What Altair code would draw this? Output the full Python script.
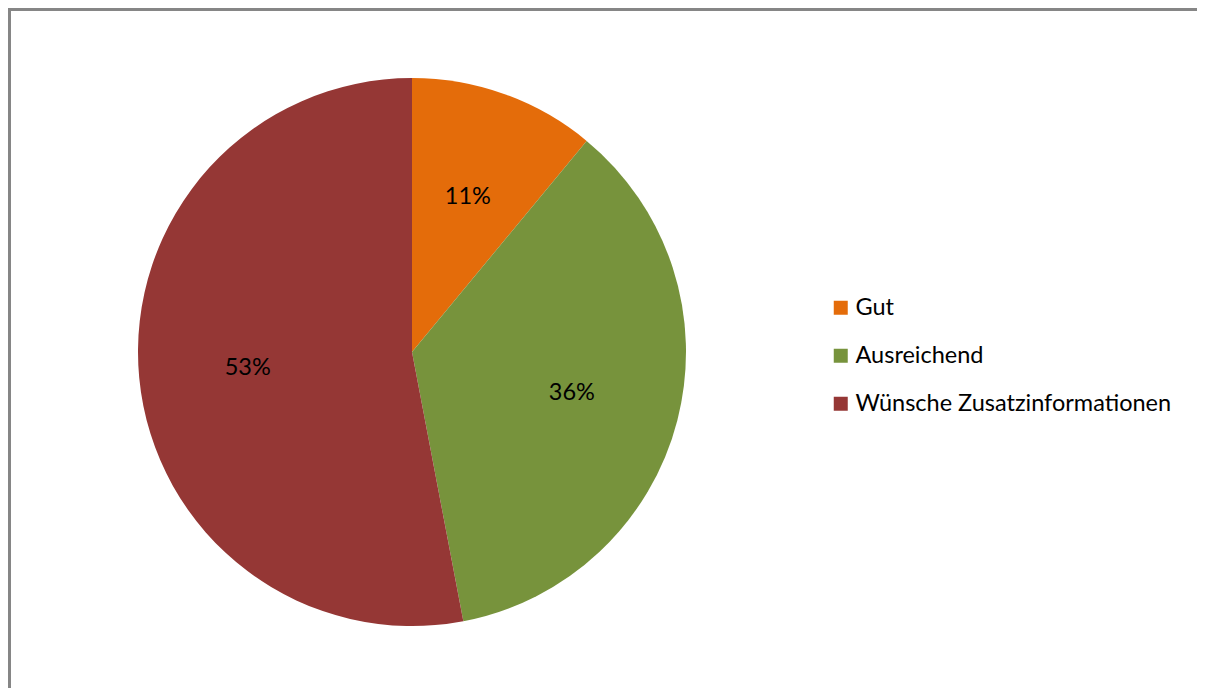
import altair as alt
import pandas as pd

categories = ["Gut", "Ausreichend", "Wünsche Zusatzinformationen"]
values = [11, 36, 53]
labels = ["11%", "36%", "53%"]
colors = ["#E46C0A", "#77933C", "#953735"]

df = pd.DataFrame({"cat": categories, "val": values, "lab": labels, "order": [0, 1, 2]})

FONT = "Lato"
W, H = 1189, 680
CX, CY, R = 404, 344, 274

base = alt.Chart(df).encode(
    theta=alt.Theta("val:Q", stack=True),
    order=alt.Order("order:Q"),
)

pie = base.mark_arc(outerRadius=R).encode(
    x=alt.value(CX),
    y=alt.value(CY),
    color=alt.Color(
        "cat:N",
        scale=alt.Scale(domain=categories, range=colors),
        sort=categories,
        legend=alt.Legend(
            title=None,
            orient="none",
            legendX=821,
            legendY=288,
            symbolType="square",
            symbolSize=196,
            symbolStrokeWidth=0,
            symbolOpacity=1,
            labelFont=FONT,
            labelFontSize=23.5,
            labelColor="#000000",
            labelOffset=3,
            rowPadding=23,
            labelLimit=500,
        ),
    ),
)

text = base.mark_text(radius=165, font=FONT, fontSize=23.5, color="#000000").encode(
    x=alt.value(CX),
    y=alt.value(CY),
    text="lab:N",
)

border = alt.Chart(pd.DataFrame({"a": [0]})).mark_rule(color="#868686", strokeWidth=3)
left = border.encode(x=alt.value(1.5), y=alt.value(0), y2=alt.value(H + 20))
top = border.encode(y=alt.value(1.5), x=alt.value(0), x2=alt.value(W + 20))

chart = (
    alt.layer(pie, text, left, top)
    .properties(width=W, height=H, padding=0, autosize=alt.AutoSizeParams(type="none"))
    .configure_view(stroke=None)
)

chart.save("out.html", embed_options={"renderer": "svg", "actions": False})
